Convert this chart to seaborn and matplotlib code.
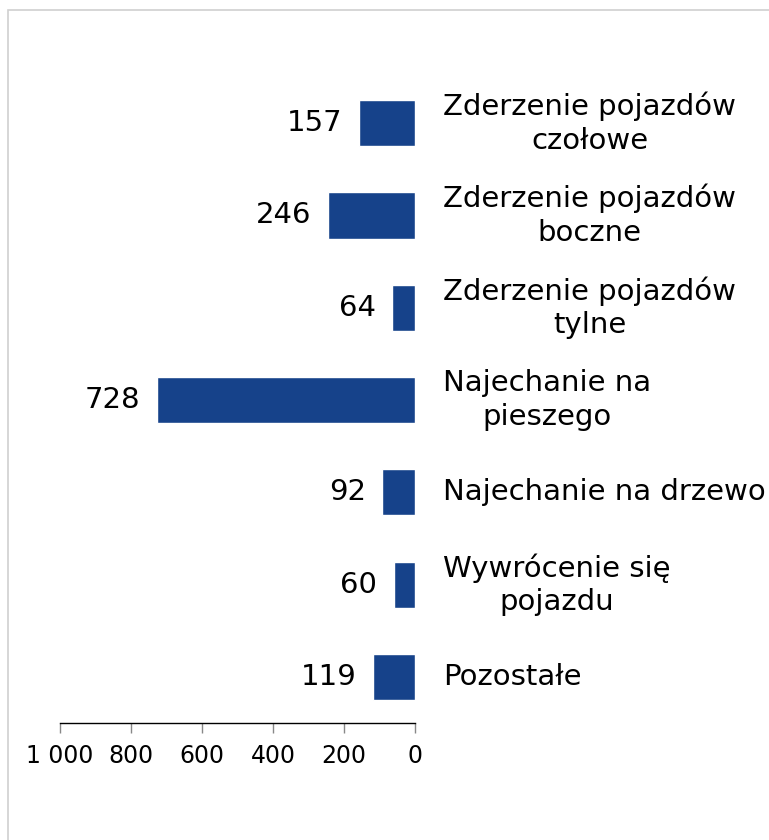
import pandas as pd
import matplotlib
matplotlib.use("Agg")
import matplotlib.pyplot as plt
import seaborn as sns
from matplotlib.patches import Rectangle

# data
categories = [
    "Zderzenie pojazdów\nczołowe",
    "Zderzenie pojazdów\nboczne",
    "Zderzenie pojazdów\ntylne",
    "Najechanie na\npieszego",
    "Najechanie na drzewo",
    "Wywrócenie się\npojazdu",
    "Pozostałe",
]
values = [157, 246, 64, 728, 92, 60, 119]
tick_values = [0, 200, 400, 600, 800, 1000]
tick_labels = ["0", "200", "400", "600", "800", "1 000"]

df = pd.DataFrame({"kategoria": categories, "liczba": values})

sns.set_theme(style="white")
plt.rcParams["font.family"] = ["DejaVu Sans"]
plt.rcParams["text.color"] = "black"
plt.rcParams["xtick.color"] = "black"

fig = plt.figure(figsize=(7.69, 8.40), dpi=100)
W, H = 769, 840
ax = fig.add_axes([60 / W, 1 - 723 / H, 355 / W, (723 - 77) / H])

sns.barplot(data=df, x="liczba", y="kategoria", orient="h", color="#16428A",
            saturation=1, width=0.5, ax=ax)

ax.set_xlim(1000, 0)
ax.set_ylim(6.5, -0.5)
ax.set_xticks(tick_values)
ax.set_xticklabels(tick_labels, fontsize=17, color="black")
ax.tick_params(axis="x", direction="out", length=7, width=1, color="#888888",
               pad=8, bottom=True)
ax.set_yticks([])
ax.set_xlabel("")
ax.set_ylabel("")
for side in ["top", "right", "left"]:
    ax.spines[side].set_visible(False)
ax.spines["bottom"].set_color("black")
ax.spines["bottom"].set_linewidth(1)

# value labels to the left of each bar
for cont in ax.containers:
    ax.bar_label(cont, labels=[str(v) for v in values], padding=12, fontsize=21,
                 color="black")

# category names on the right of the zero line
trans = ax.get_yaxis_transform()
for i, name in enumerate(categories):
    ax.text((443 - 60) / 355, i, name, transform=trans, ha="left", va="center",
            multialignment="center", fontsize=21, linespacing=1.25, color="black")

# light grey frame
fig.patches.append(Rectangle((8 / W, -0.1), 1.2, 1.1 - 10 / H, transform=fig.transFigure,
                             fill=False, edgecolor="#D0D0D0", linewidth=1.2))

fig.savefig("out.png", dpi=100)
